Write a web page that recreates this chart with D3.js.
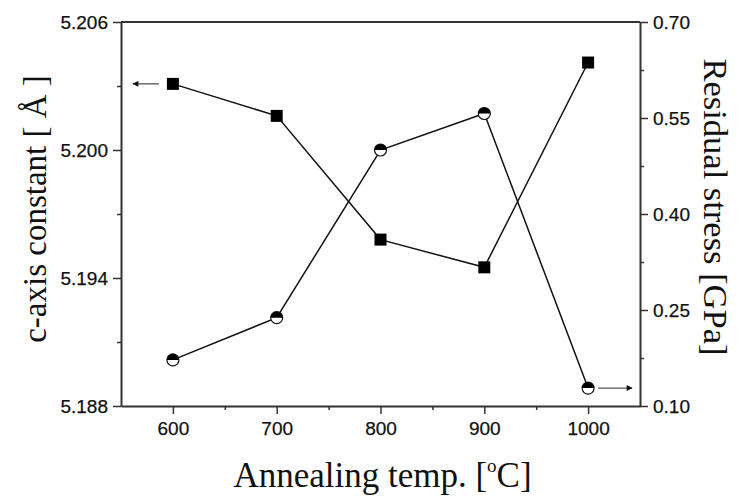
<!DOCTYPE html>
<html>
<head>
<meta charset="utf-8">
<script src="https://cdn.jsdelivr.net/npm/d3@7/dist/d3.min.js"></script>
<style>
html,body{margin:0;padding:0;background:#fff;}
svg{display:block;}
</style>
</head>
<body>
<div id="chart"></div>
<script>
const temps = [600, 700, 800, 900, 1000];
const cAxis = [5.2031, 5.2016, 5.1958, 5.1945, 5.2041];
const stress = [0.172, 0.238, 0.500, 0.557, 0.128];
const xTicks = [600, 700, 800, 900, 1000];
const xMinor = [650, 750, 850, 950];
const leftTicks = [5.188, 5.194, 5.200, 5.206];
const leftMinor = [5.191, 5.197, 5.203];
const rightTicks = [0.10, 0.25, 0.40, 0.55, 0.70];
const rightMinor = [0.175, 0.325, 0.475, 0.625];

const W = 750, H = 500;
const m = {left:121, right:110, top:22, bottom:94};
const svg = d3.select('#chart').append('svg').attr('width', W).attr('height', H);

const x = d3.scaleLinear().domain([550, 1050]).range([m.left, W - m.right]);
const yL = d3.scaleLinear().domain([5.188, 5.206]).range([H - m.bottom, m.top]);
const yR = d3.scaleLinear().domain([0.10, 0.70]).range([H - m.bottom, m.top]);

const axisColor = '#333';
const tickFont = '"Liberation Sans", Arial, sans-serif';
const titleFont = '"Liberation Serif", "Times New Roman", serif';

function styleAxis(g) {
  g.select('.domain').attr('stroke', axisColor).attr('stroke-width', 2);
  g.selectAll('.tick line').attr('stroke', axisColor).attr('stroke-width', 1.5);
  g.selectAll('.tick text').attr('font-family', tickFont).attr('font-size', 19).attr('fill', '#111')
    .attr('stroke', '#111').attr('stroke-width', 0.25);
}

// frame top
svg.append('line').attr('x1', x.range()[0]).attr('x2', x.range()[1])
  .attr('y1', m.top).attr('y2', m.top).attr('stroke', axisColor).attr('stroke-width', 2);

// x axis
const gx = svg.append('g').attr('transform', `translate(0,${H - m.bottom})`)
  .call(d3.axisBottom(x).tickValues(xTicks).tickFormat(d3.format('d')).tickSize(8).tickPadding(8).tickSizeOuter(0));
styleAxis(gx);
svg.append('g').attr('transform', `translate(0,${H - m.bottom})`)
  .call(d3.axisBottom(x).tickValues(xMinor).tickFormat('').tickSize(4).tickSizeOuter(0))
  .call(g => { g.select('.domain').remove(); g.selectAll('line').attr('stroke', axisColor).attr('stroke-width', 1.5); });

// left axis
const gl = svg.append('g').attr('transform', `translate(${m.left},0)`)
  .call(d3.axisLeft(yL).tickValues(leftTicks).tickFormat(d3.format('.3f')).tickSize(8).tickPadding(5).tickSizeOuter(0));
styleAxis(gl);
svg.append('g').attr('transform', `translate(${m.left},0)`)
  .call(d3.axisLeft(yL).tickValues(leftMinor).tickFormat('').tickSize(4).tickSizeOuter(0))
  .call(g => { g.select('.domain').remove(); g.selectAll('line').attr('stroke', axisColor).attr('stroke-width', 1.5); });

// right axis
const gr = svg.append('g').attr('transform', `translate(${W - m.right},0)`)
  .call(d3.axisRight(yR).tickValues(rightTicks).tickFormat(d3.format('.2f')).tickSize(8).tickPadding(5).tickSizeOuter(0));
styleAxis(gr);
svg.append('g').attr('transform', `translate(${W - m.right},0)`)
  .call(d3.axisRight(yR).tickValues(rightMinor).tickFormat('').tickSize(4).tickSizeOuter(0))
  .call(g => { g.select('.domain').remove(); g.selectAll('line').attr('stroke', axisColor).attr('stroke-width', 1.5); });

// series lines
const cData = temps.map((t, i) => ({t, v: cAxis[i]}));
const sData = temps.map((t, i) => ({t, v: stress[i]}));

svg.append('path').datum(cData)
  .attr('d', d3.line().x(d => x(d.t)).y(d => yL(d.v)))
  .attr('fill', 'none').attr('stroke', '#111').attr('stroke-width', 1.5);
svg.append('path').datum(sData)
  .attr('d', d3.line().x(d => x(d.t)).y(d => yR(d.v)))
  .attr('fill', 'none').attr('stroke', '#111').attr('stroke-width', 1.5);

// square markers
const sq = 12;
svg.selectAll('rect.sq').data(cData).enter().append('rect')
  .attr('x', d => x(d.t) - sq / 2).attr('y', d => yL(d.v) - sq / 2)
  .attr('width', sq).attr('height', sq).attr('fill', '#000');

// half-filled circle markers
const r = 6;
const gc = svg.selectAll('g.cm').data(sData).enter().append('g')
  .attr('transform', d => `translate(${x(d.t)},${yR(d.v)})`);
gc.append('circle').attr('r', r).attr('fill', '#fff').attr('stroke', '#111').attr('stroke-width', 1.2);
gc.append('path').attr('d', `M${-r},0 A${r},${r} 0 0 1 ${r},0 Z`).attr('fill', '#000');

// arrows
const defs = svg.append('defs');
defs.append('marker').attr('id', 'ah').attr('viewBox', '0 0 10 10')
  .attr('refX', 9).attr('refY', 5).attr('markerWidth', 8).attr('markerHeight', 6)
  .attr('markerUnits', 'userSpaceOnUse').attr('orient', 'auto')
  .append('path').attr('d', 'M0,0 L10,5 L0,10 Z').attr('fill', '#111');

const a1y = yL(cAxis[0]);
svg.append('line').attr('x1', x(temps[0]) - 14).attr('x2', x(550) + 12)
  .attr('y1', a1y).attr('y2', a1y).attr('stroke', '#555').attr('stroke-width', 1.3)
  .attr('marker-end', 'url(#ah)');
const a2y = yR(stress[4]);
svg.append('line').attr('x1', x(temps[4]) + 10).attr('x2', x(1050) - 8)
  .attr('y1', a2y).attr('y2', a2y).attr('stroke', '#555').attr('stroke-width', 1.3)
  .attr('marker-end', 'url(#ah)');

// titles
const xt = svg.append('text').attr('x', (x.range()[0] + x.range()[1]) / 2 + 2).attr('y', 487)
  .attr('text-anchor', 'middle').attr('font-family', titleFont).attr('font-size', 35).attr('fill', '#111');
xt.append('tspan').text('Annealing temp. [');
xt.append('tspan').text('o').attr('font-size', 19).attr('dy', -15);
xt.append('tspan').text('C]').attr('dy', 15);

svg.append('text').attr('transform', `translate(46,${209}) rotate(-90)`)
  .attr('text-anchor', 'middle').attr('font-family', titleFont).attr('font-size', 33).attr('fill', '#111')
  .text('c-axis constant [ Å ]');

svg.append('text').attr('transform', `translate(704,${207}) rotate(90)`)
  .attr('text-anchor', 'middle').attr('font-family', titleFont).attr('font-size', 34.5).attr('fill', '#111')
  .text('Residual stress [GPa]');
</script>
</body>
</html>
